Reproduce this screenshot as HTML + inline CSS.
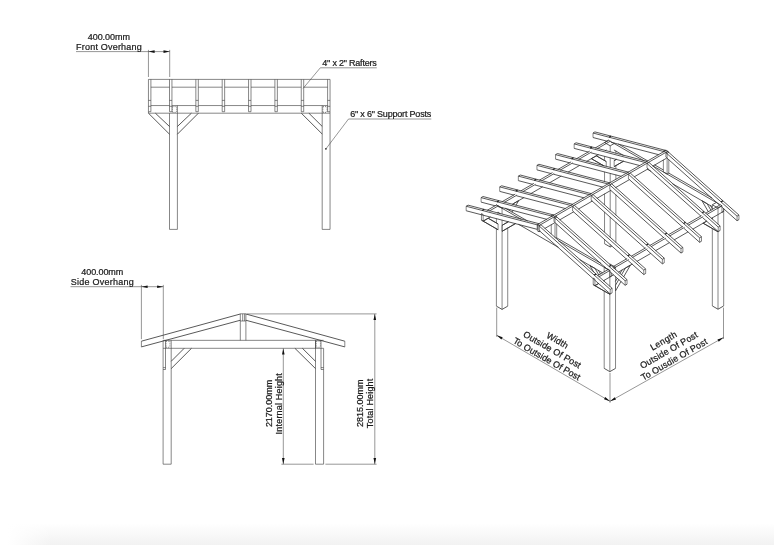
<!DOCTYPE html>
<html><head><meta charset="utf-8"><title>Gazebo drawing</title>
<style>
html,body{margin:0;padding:0;background:#fff;}
body{width:774px;height:545px;overflow:hidden;position:relative;font-family:"Liberation Sans",sans-serif;}
svg{position:absolute;left:0;top:0;display:block;will-change:transform;filter:grayscale(1)}
.ln{fill:none;stroke:#3c3c3c;stroke-width:0.62;stroke-linecap:butt}
.ln2{fill:none;stroke:#333;stroke-width:0.82;stroke-linecap:butt}
.dm{fill:none;stroke:#4a4a4a;stroke-width:0.58;stroke-linecap:butt}
.tx{font-family:"Liberation Sans",sans-serif;fill:#1a1a1a;stroke:#1a1a1a;stroke-width:0.22}
.ar{fill:#111;stroke:none}
</style></head><body>
<svg width="774" height="545" viewBox="0 0 774 545">
<defs><linearGradient id="bg" x1="0" y1="0" x2="0" y2="1"><stop offset="0" stop-color="#ffffff"/><stop offset="1" stop-color="#f2f2f2"/></linearGradient><linearGradient id="fd" x1="0" y1="0" x2="1" y2="0"><stop offset="0" stop-color="#ffffff" stop-opacity="1"/><stop offset="1" stop-color="#ffffff" stop-opacity="0"/></linearGradient></defs>
<rect x="0" y="0" width="774" height="545" fill="#ffffff"/>
<rect x="8" y="523" width="766" height="22" fill="url(#bg)"/>
<rect x="8" y="523" width="44" height="22" fill="url(#fd)"/>
<path class="ln" d="M466.16 210.75L466.16 206.25M481.1 202.12L481.1 197.63M481.46 213.61L481.46 220.16M483.16 221.14L483.16 214.6M496.4 218.49L496.4 223.24M496.4 228.62L496.4 306.15M498.1 229.77L498.1 223.96M499.71 191.38L499.71 186.88M502.07 214.26L502.07 208.26M502.07 225.35L502.07 231.32M502.07 309.42L502.07 219.89M507.73 208.86L507.73 209.99M507.73 221.49L507.73 222.24M507.73 227.87L507.73 306.15M518.33 180.63L518.33 176.13M536.94 169.89L536.94 165.39M537.33 224.61L537.33 230.83M537.33 224.88L537.33 229.38M539.03 225.86L539.03 230.36M539.03 231.81L539.03 225.6M551.25 215.8L551.25 216.81M551.25 224.47L551.25 234.14M553.98 217.24L553.98 221.73M555.0 237.82L555.0 217.97M555.55 159.14L555.55 154.64M556.7 216.99L556.7 217.49M556.7 223.77L556.7 237.84M572.59 206.49L572.59 210.99M574.16 148.39L574.16 143.9M591.2 195.74L591.2 200.24M593.0 137.52L593.0 133.02M593.21 278.14L593.21 284.68M594.91 285.66L594.91 279.12M604.19 267.22L604.19 272.22M604.19 280.1L604.19 281.48M604.19 290.85L604.19 368.38M604.54 156.18L604.54 160.8M604.54 171.81L604.54 181.69M604.54 193.69L604.54 205.07M604.54 211.82L604.54 232.33M604.54 239.21L604.54 243.71M606.24 166.61L606.24 161.52M609.81 185.0L609.81 189.5M609.85 277.03L609.85 270.49M609.85 286.75L609.85 270.49M609.85 294.29L609.85 293.15M609.85 371.65L609.85 293.13M610.21 151.95L610.21 145.82M610.21 167.58L610.21 157.7M610.21 182.83L610.21 173.33M610.21 210.34L610.21 190.46M610.21 237.6L610.21 216.84M610.21 246.98L610.21 244.23M610.21 293.92L610.21 289.42M611.55 272.78L611.55 276.05M612.12 288.32L612.12 292.82M614.17 160.62L614.17 166.59M615.52 267.22L615.52 269.85M615.52 276.35L615.52 368.38M615.52 290.94L615.52 285.21M615.87 150.68L615.87 153.43M615.87 159.05L615.87 159.8M615.87 165.31L615.87 169.06M615.87 174.68L615.87 179.44M615.87 187.19L615.87 187.94M615.87 194.44L615.87 215.32M615.87 221.83L615.87 242.58M625.15 285.29L625.15 280.8M627.06 279.69L627.06 284.19M628.42 174.25L628.42 178.75M643.76 274.55L643.76 270.05M645.67 268.95L645.67 273.44M647.03 163.51L647.03 168.0M662.37 263.8L662.37 259.3M663.36 151.07L663.36 152.2M663.36 159.74L663.36 171.93M664.29 258.2L664.29 262.7M665.87 152.63L665.87 157.13M667.11 174.09L667.11 153.24M667.78 151.26L667.78 151.89M668.81 152.26L668.81 152.76M668.81 159.55L668.81 173.11M680.99 253.06L680.99 248.56M682.9 247.46L682.9 251.95M699.6 242.31L699.6 237.81M701.51 236.71L701.51 241.21M712.33 204.78L712.33 209.66M712.33 217.54L712.33 219.29M712.33 228.29L712.33 305.94M718.0 224.43L718.0 208.05M718.0 231.77L718.0 230.88M718.0 309.22L718.0 230.94M718.21 231.57L718.21 227.07M720.12 225.96L720.12 230.46M721.96 212.31L721.96 205.76M723.66 208.41L723.66 305.94M723.66 208.43L723.66 211.32M737.05 220.69L737.05 216.19M738.96 215.09L738.96 219.58"/>
<path class="ln2" d="M466.16 206.25L468.07 205.15M466.16 206.25L537.33 224.88M481.1 197.63L483.02 196.52M481.1 197.63L552.28 216.25M481.46 220.16L483.16 221.14M483.16 214.6L481.46 213.61M483.16 221.14L498.1 229.77M488.19 218.24L483.16 221.14M488.34 218.32L496.4 222.98M490.52 216.89L483.16 221.14M495.39 205.86L481.1 202.12M496.4 228.78L481.46 220.16M496.4 306.15L502.07 309.42M496.73 204.8L487.09 210.36M497.81 212.34L500.41 213.84M498.1 223.96L488.19 218.24M498.1 223.96L496.4 222.98M498.1 229.77L496.4 228.78M498.42 205.78L489.44 210.97M498.42 212.32L497.13 213.07M499.71 186.88L501.63 185.78M499.71 186.88L570.89 205.51M502.07 208.26L496.4 204.99M502.07 231.32L515.5 223.56M503.05 207.69L502.07 208.26M503.77 224.37L502.07 225.35M503.77 224.37L508.33 221.73M503.77 230.34L502.07 231.32M505.35 208.19L527.65 221.07M507.73 306.15L502.07 309.42M508.28 208.95L507.71 209.92M508.48 221.64L502.07 225.35M509.41 210.91L510.23 209.49M513.05 204.6L513.68 203.51M513.12 210.22L511.92 212.28M513.68 203.51L518.64 200.65M514.0 195.12L499.71 191.38M515.24 194.11L502.03 201.74M515.58 223.52L503.77 230.34M517.05 195.03L504.38 202.34M518.33 176.13L520.24 175.03M518.33 176.13L589.5 194.76M518.48 224.28L558.54 247.41M518.64 200.65L515.88 205.43M521.52 219.49L496.4 204.99M524.09 197.51L512.07 204.44M532.61 184.37L518.33 180.63M533.87 183.35L520.66 190.98M535.57 184.34L523.01 191.59M536.94 165.39L538.85 164.28M536.94 165.39L608.11 184.02M537.33 229.38L466.16 210.75M537.33 230.83L539.03 231.81M539.03 225.6L537.33 224.61M539.03 230.36L610.21 293.92M539.25 223.78L468.07 205.15M539.25 223.78L537.33 224.88M540.33 231.06L539.03 231.81M540.95 224.76L539.03 225.86M540.95 224.76L612.12 288.32M542.71 186.75L530.69 193.69M546.95 219.36L497.81 206.5M551.22 173.62L536.94 169.89M552.13 216.31L551.25 215.8M552.49 172.6L539.17 180.29M552.95 214.82L551.25 215.8M552.95 214.82L553.83 215.33M553.98 221.73L607.99 269.97M554.19 173.58L541.52 180.9M554.19 215.15L483.02 196.52M554.19 215.15L552.28 216.25M554.19 223.06L544.66 228.56M555.0 217.97L553.68 217.2M555.49 216.29L556.7 216.99M555.55 154.64L557.46 153.54M555.55 154.64L626.72 173.27M555.89 216.13L553.98 217.24M555.89 216.13L627.06 279.69M556.45 237.7L601.05 263.45M556.7 216.99L555.0 217.97M556.7 237.84L555.8 238.37M561.23 176.06L549.32 182.94M565.56 208.61L516.42 195.75M569.83 162.88L555.55 159.14M571.12 161.85L557.8 169.54M572.59 210.99L626.6 259.22M572.8 204.4L501.63 185.78M572.8 204.4L570.89 205.51M572.82 162.83L560.15 170.14M573.79 211.74L559.72 219.87M574.16 143.9L576.07 142.79M574.16 143.9L645.33 162.52M574.5 205.39L572.59 206.49M574.5 205.39L645.67 268.95M579.54 259.53L602.82 272.97M579.86 165.31L567.84 172.25M584.17 197.87L535.03 185.0M588.44 152.13L574.16 148.39M589.74 151.09L576.42 158.78M589.88 265.5L595.05 268.49M591.2 200.24L645.21 248.47M591.37 158.66L604.29 166.12M591.41 193.66L520.24 175.03M591.41 193.66L589.5 194.76M591.44 152.07L578.77 159.39M592.42 200.99L578.34 209.12M593.0 133.02L594.91 131.92M593.0 133.02L664.17 151.65M593.11 194.64L591.2 195.74M593.11 194.64L664.29 258.2M593.21 284.68L594.91 285.66M593.84 272.35L589.88 265.5M594.91 279.12L593.21 278.14M594.91 285.66L609.85 294.29M595.05 268.49L598.93 275.21M596.15 155.7L604.54 160.54M596.33 155.8L591.37 158.66M598.48 154.55L586.46 161.49M598.81 283.41L594.91 285.66M598.85 283.39L594.91 285.66M600.63 274.23L598.19 270.0M602.79 187.12L553.64 174.26M603.24 165.51L591.19 158.55M604.19 368.38L609.85 371.65M604.54 243.71L610.21 246.98M604.84 266.84L604.19 267.22M606.24 161.52L596.33 155.8M606.24 161.52L604.54 160.54M606.49 149.93L605.09 150.74M607.28 141.26L593.0 137.52M608.15 293.31L593.21 284.68M608.48 269.32L597.54 275.64M608.57 140.22L604.54 142.55M608.58 140.21L595.05 148.03M609.57 271.38L625.15 285.29M609.81 189.5L663.82 237.73M609.85 263.95L609.42 264.2M609.85 263.95L615.52 267.22M609.85 270.49L558.32 240.74M609.85 270.49L604.19 267.22M609.85 294.29L608.15 293.31M610.02 182.91L538.85 164.28M610.02 182.91L608.11 184.02M610.18 270.3L598.81 276.87M610.21 145.82L604.54 142.55M610.21 289.42L539.03 225.86M610.21 289.42L612.12 288.32M610.28 141.2L597.4 148.64M611.04 190.23L596.86 198.42M611.55 276.05L609.85 277.03M611.72 183.89L609.81 185.0M611.72 183.89L682.9 247.46M612.06 245.91L610.21 246.98M612.12 292.82L610.21 293.92M613.75 274.78L603.36 280.79M613.92 149.93L623.56 155.49M614.17 166.59L623.6 161.15M614.89 143.11L610.21 145.82M615.52 267.22L613.78 268.23M615.52 285.21L618.85 279.45M615.52 368.38L609.85 371.65M615.87 159.64L614.17 160.62M615.87 159.64L616.31 159.39M615.87 165.61L614.17 166.59M616.46 159.3L614.17 160.62M617.4 278.04L615.39 281.51M618.33 143.96L647.99 161.09M621.1 281.26L615.52 290.94M621.4 176.37L572.25 163.51M621.42 275.0L625.43 268.04M622.29 269.56L619.91 273.69M623.57 161.17L615.87 165.61M625.15 280.8L553.98 217.24M625.15 280.8L627.06 279.69M625.43 268.04L630.39 265.18M627.06 284.19L625.15 285.29M627.1 258.57L612.59 266.95M628.18 260.64L643.76 274.55M628.42 178.75L682.43 226.98M628.64 172.17L557.46 153.54M628.64 172.17L626.72 173.27M628.8 259.55L613.75 268.24M629.56 179.54L615.48 187.67M630.33 173.15L628.42 174.25M630.33 173.15L701.51 236.71M630.39 265.18L623.61 276.92M632.38 264.03L618.3 272.16M639.89 165.6L590.86 152.77M643.76 270.05L572.59 206.49M643.76 270.05L645.67 268.95M644.34 160.95L608.51 140.26M645.67 273.44L643.76 274.55M645.73 247.82L631.22 256.19M646.8 249.89L662.37 263.8M647.03 168.0L701.04 216.24M647.16 169.11L651.16 171.43M647.25 161.42L576.07 142.79M647.25 161.42L645.33 162.52M647.32 248.86L632.38 257.49M648.18 168.79L634.11 176.92M648.95 162.4L647.03 163.51M648.95 162.4L720.12 225.96M650.89 253.34L636.93 261.4M654.49 164.84L663.47 170.03M658.85 154.75L610.91 142.21M662.37 259.3L591.2 195.74M662.37 259.3L664.29 258.2M663.36 171.93L667.11 174.09M664.24 151.58L663.36 151.07M664.25 237.12L649.63 245.57M664.29 262.7L662.37 263.8M665.06 150.09L663.36 151.07M665.06 150.09L665.94 150.6M665.41 239.15L680.99 253.06M665.87 157.13L719.14 204.69M665.95 238.11L651.0 246.73M666.08 150.28L537.33 224.61M666.08 150.28L667.78 151.26M666.08 150.54L594.91 131.92M666.08 150.54L664.17 151.65M666.38 158.29L652.73 166.16M667.05 151.24L668.81 152.26M667.11 153.24L665.9 152.54M667.78 151.26L539.03 225.6M667.78 151.53L665.87 152.63M667.78 151.53L738.96 215.09M668.56 172.97L712.08 198.09M668.81 152.26L667.11 153.24M668.81 173.11L667.11 174.09M669.52 242.59L655.44 250.71M672.49 183.74L712.44 206.81M680.99 248.56L609.81 185.0M680.99 248.56L682.9 247.46M682.87 226.37L668.25 234.81M682.9 251.95L680.99 253.06M684.02 228.4L699.6 242.31M684.57 227.35L669.63 235.98M688.14 231.83L674.07 239.96M699.6 237.81L628.42 174.25M699.6 237.81L701.51 236.71M701.5 215.62L686.88 224.06M701.51 241.21L699.6 242.31M701.99 200.77L707.16 203.76M702.63 217.65L718.21 231.57M703.12 223.18L718.0 231.77M703.2 216.6L688.25 225.23M706.77 221.08L692.69 229.21M706.87 221.02L703.12 223.18M707.16 203.76L711.04 210.48M708.45 211.97L701.99 200.77M712.33 305.94L718.0 309.22M712.47 218.92L711.9 217.95M712.49 209.07L710.24 205.16M716.3 230.79L702.84 223.02M716.69 202.27L712.33 204.78M718.0 208.05L712.33 204.78M718.0 231.77L716.3 230.79M718.21 227.07L647.03 163.51M718.21 227.07L720.12 225.96M720.12 230.46L718.21 231.57M720.34 204.74L705.5 213.3M721.47 206.78L737.05 220.69M721.96 205.76L652.79 165.82M722.03 205.73L718.0 208.05M722.04 205.72L706.88 214.47M723.66 211.32L711.32 218.45M723.66 211.32L721.96 212.31M723.66 305.94L718.0 309.22M737.05 216.19L665.87 152.63M737.05 216.19L738.96 215.09M738.96 219.58L737.05 220.69"/>
<path class="ln2" style="stroke-width:1.3;stroke:#222" d="M482.17 210.44L484.08 209.34M594.20 275.13L596.11 274.03M497.11 201.82L499.02 200.71M609.15 266.50L611.06 265.40M515.72 191.07L517.63 189.97M627.76 255.76L629.67 254.65M534.33 180.32L536.24 179.22M646.37 245.01L648.28 243.91M552.94 169.58L554.85 168.47M664.98 234.27L666.89 233.16M571.55 158.83L573.47 157.73M683.59 223.52L685.50 222.42M590.17 148.09L592.08 146.98M702.20 212.77L704.12 211.67M609.00 137.21L610.92 136.11M721.04 201.90L722.95 200.79"/>
<path class="ln" d="M148.45 79.40L330.05 79.40M148.45 113.20L330.05 113.20M150.90 87.20L169.50 87.20M150.90 105.55L169.50 105.55M171.95 87.20L195.85 87.20M171.95 105.55L195.85 105.55M198.30 87.20L222.20 87.20M198.30 105.55L222.20 105.55M224.65 87.20L248.55 87.20M224.65 105.55L248.55 105.55M251.00 87.20L274.90 87.20M251.00 105.55L274.90 105.55M277.35 87.20L301.25 87.20M277.35 105.55L301.25 105.55M303.70 87.20L327.60 87.20M303.70 105.55L327.60 105.55M148.45 79.40L148.45 111.70M150.90 79.40L150.90 111.70M148.45 111.70L150.90 111.70M148.45 100.40L150.90 100.40M148.45 106.30L150.90 106.30M169.50 79.40L169.50 111.70M171.95 79.40L171.95 111.70M169.50 111.70L171.95 111.70M169.50 100.40L171.95 100.40M169.50 106.30L171.95 106.30M195.85 79.40L195.85 111.70M198.30 79.40L198.30 111.70M195.85 111.70L198.30 111.70M195.85 100.40L198.30 100.40M195.85 106.30L198.30 106.30M222.20 79.40L222.20 111.70M224.65 79.40L224.65 111.70M222.20 111.70L224.65 111.70M222.20 100.40L224.65 100.40M222.20 106.30L224.65 106.30M248.55 79.40L248.55 111.70M251.00 79.40L251.00 111.70M248.55 111.70L251.00 111.70M248.55 100.40L251.00 100.40M248.55 106.30L251.00 106.30M274.90 79.40L274.90 111.70M277.35 79.40L277.35 111.70M274.90 111.70L277.35 111.70M274.90 100.40L277.35 100.40M274.90 106.30L277.35 106.30M301.25 79.40L301.25 111.70M303.70 79.40L303.70 111.70M301.25 111.70L303.70 111.70M301.25 100.40L303.70 100.40M301.25 106.30L303.70 106.30M327.60 79.40L327.60 111.70M330.05 79.40L330.05 111.70M327.60 111.70L330.05 111.70M327.60 100.40L330.05 100.40M327.60 106.30L330.05 106.30M148.45 111.70L148.45 113.20M330.05 111.70L330.05 113.20M169.50 113.20L169.50 229.40M177.40 113.20L177.40 229.40M169.50 229.40L177.40 229.40M322.20 113.20L322.20 229.40M330.05 113.20L330.05 229.40M322.20 229.40L330.05 229.40M177.40 105.55L177.40 113.20M322.20 105.55L322.20 113.20M141.40 341.20L141.40 346.90M344.80 341.20L344.80 346.90M240.30 313.80L240.30 340.35M245.90 313.80L245.90 340.35M240.30 313.80L245.90 313.80M242.70 313.80L242.70 321.00M244.60 313.80L244.60 321.00M240.30 321.00L245.90 321.00M163.10 340.35L323.60 340.35M163.10 348.30L323.60 348.30M163.10 340.35L163.10 464.20M171.20 348.30L171.20 464.20M163.10 464.20L171.20 464.20M315.50 340.35L315.50 464.20M323.60 348.30L323.60 464.20M315.50 464.20L323.60 464.20M171.20 340.35L171.20 348.30M315.50 340.35L315.50 348.30M165.50 340.35L165.50 369.50M163.10 369.50L165.50 369.50M163.10 367.60L165.50 367.60M321.00 340.35L321.00 369.50M321.00 369.50L323.60 369.50M321.00 367.60L323.60 367.60"/>
<path class="ln2" d="M148.45 113.20L169.50 134.20M155.40 113.20L169.50 126.50M198.40 113.20L177.40 134.20M191.40 113.20L177.40 126.50M301.30 113.20L322.20 134.00M308.90 113.20L322.20 126.40M141.40 341.20L240.30 314.00M141.40 346.90L240.30 320.24M344.80 341.20L245.90 314.00M344.80 346.90L245.90 320.24M191.50 348.30L171.20 368.60M184.20 348.30L171.20 361.30M294.90 348.30L315.50 368.60M302.40 348.30L315.50 361.30"/>
<path class="dm" d="M148.45 49.90L148.45 77.00M169.70 49.90L169.70 77.00M76.00 51.60L169.70 51.60M320.30 67.80L376.80 67.80M320.30 67.80L303.10 88.40M348.50 119.00L431.30 119.00M348.50 119.00L325.90 148.90M141.40 284.90L141.40 339.20M163.30 284.90L163.30 339.00M70.50 286.70L163.30 286.70M247.00 313.90L376.60 313.90M374.80 313.90L374.80 464.20M283.30 348.40L283.30 464.20M281.40 464.20L313.60 464.20M325.40 464.20L376.60 464.20M496.70 335.30L610.00 401.30M610.00 401.30L723.50 337.50M496.70 307.60L496.70 336.80M610.00 372.90L610.00 402.80M723.50 307.60L723.50 339.00"/>
<path class="ln" stroke-dasharray="1 1.1" d="M172.50 106.60L176.60 106.60M172.50 112.40L176.60 112.40M172.50 106.60L172.50 112.40M176.60 106.60L176.60 112.40M322.90 106.60L327.00 106.60M322.90 112.40L327.00 112.40M322.90 106.60L322.90 112.40M327.00 106.60L327.00 112.40M166.10 341.20L169.90 341.20M166.10 347.30L169.90 347.30M166.10 341.20L166.10 347.30M169.90 341.20L169.90 347.30M316.40 341.20L320.40 341.20M316.40 347.30L320.40 347.30M316.40 341.20L316.40 347.30M320.40 341.20L320.40 347.30"/>
<polygon class="ar" points="148.45,51.60 154.65,50.30 154.65,52.90"/>
<polygon class="ar" points="169.70,51.60 163.50,52.90 163.50,50.30"/>
<circle class="ar" cx="325.9" cy="148.9" r="0.8"/>
<polygon class="ar" points="141.40,286.70 147.60,285.40 147.60,288.00"/>
<polygon class="ar" points="163.30,286.70 157.10,288.00 157.10,285.40"/>
<polygon class="ar" points="374.80,313.90 376.10,320.10 373.50,320.10"/>
<polygon class="ar" points="374.80,464.20 373.50,458.00 376.10,458.00"/>
<polygon class="ar" points="283.30,348.40 284.60,354.60 282.00,354.60"/>
<polygon class="ar" points="283.30,464.20 282.00,458.00 284.60,458.00"/>
<polygon class="ar" points="496.70,335.30 502.71,337.30 501.40,339.54"/>
<polygon class="ar" points="610.00,401.30 603.99,399.30 605.30,397.06"/>
<polygon class="ar" points="610.00,401.30 614.77,397.13 616.04,399.40"/>
<polygon class="ar" points="723.50,337.50 718.73,341.67 717.46,339.40"/>
<text class="tx" font-size="9" transform="translate(87.70 39.90) rotate(0)" text-anchor="start" textLength="42.3" lengthAdjust="spacing">400.00mm</text>
<text class="tx" font-size="9" transform="translate(76.10 50.30) rotate(0)" text-anchor="start" textLength="65.6" lengthAdjust="spacing">Front Overhang</text>
<text class="tx" font-size="9" transform="translate(322.30 65.50) rotate(0)" text-anchor="start" textLength="54.5" lengthAdjust="spacing">4&quot; x 2&quot; Rafters</text>
<text class="tx" font-size="9" transform="translate(350.20 117.00) rotate(0)" text-anchor="start" textLength="81.1" lengthAdjust="spacing">6&quot; x 6&quot; Support Posts</text>
<text class="tx" font-size="9" transform="translate(81.30 274.90) rotate(0)" text-anchor="start" textLength="41.9" lengthAdjust="spacing">400.00mm</text>
<text class="tx" font-size="9" transform="translate(70.70 285.30) rotate(0)" text-anchor="start" textLength="63.2" lengthAdjust="spacing">Side Overhang</text>
<text class="tx" font-size="9" transform="translate(272.00 427.10) rotate(-90)" text-anchor="start" textLength="47.3" lengthAdjust="spacing">2170.00mm</text>
<text class="tx" font-size="9" transform="translate(282.30 434.40) rotate(-90)" text-anchor="start" textLength="61.2" lengthAdjust="spacing">Internal Height</text>
<text class="tx" font-size="9" transform="translate(363.40 427.10) rotate(-90)" text-anchor="start" textLength="47.6" lengthAdjust="spacing">2815.00mm</text>
<text class="tx" font-size="9" transform="translate(373.30 428.20) rotate(-90)" text-anchor="start" textLength="49.5" lengthAdjust="spacing">Total Height</text>
<text class="tx" font-size="9" transform="translate(545.30 361.60) rotate(30)" text-anchor="middle" textLength="76.0" lengthAdjust="spacing">To Outside Of Post</text>
<text class="tx" font-size="9" transform="translate(550.65 352.33) rotate(30)" text-anchor="middle" textLength="65.0" lengthAdjust="spacing">Outside Of Post</text>
<text class="tx" font-size="9" transform="translate(556.00 343.07) rotate(30)" text-anchor="middle" textLength="23.5" lengthAdjust="spacing">Width</text>
<text class="tx" font-size="9" transform="translate(675.70 362.10) rotate(-30)" text-anchor="middle" textLength="75.0" lengthAdjust="spacing">To Ousdie Of Post</text>
<text class="tx" font-size="9" transform="translate(670.35 352.83) rotate(-30)" text-anchor="middle" textLength="65.0" lengthAdjust="spacing">Outside Of Post</text>
<text class="tx" font-size="9" transform="translate(665.00 343.57) rotate(-30)" text-anchor="middle" textLength="29.0" lengthAdjust="spacing">Length</text>

</svg>
</body></html>
